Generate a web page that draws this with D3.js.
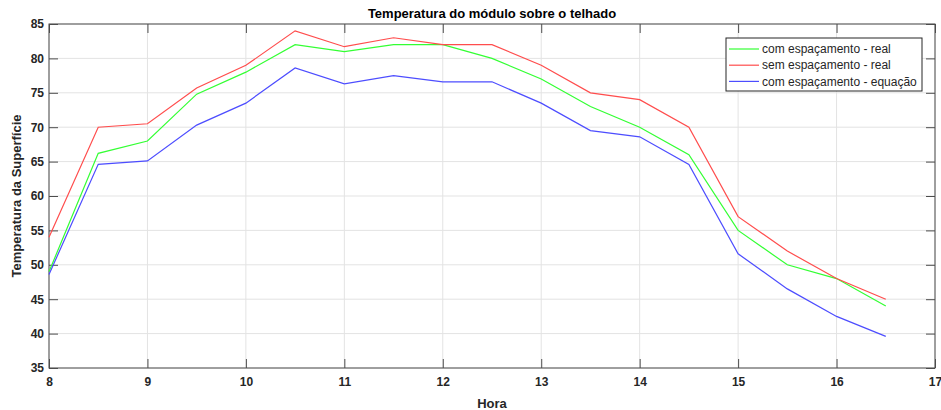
<!DOCTYPE html>
<html>
<head>
<meta charset="utf-8">
<script src="https://cdn.jsdelivr.net/npm/d3@7"></script>
<style>
body { margin: 0; background: #fff; }
text { font-family: "Liberation Sans", Arial, sans-serif; }
</style>
</head>
<body>
<div id="chart"></div>
<script>
var width = 941, height = 410
var margin = { top: 24, right: 6, bottom: 42, left: 49 }

// hours of the day
var horas = [8, 8.5, 9, 9.5, 10, 10.5, 11, 11.5, 12, 12.5, 13, 13.5, 14, 14.5, 15, 15.5, 16, 16.5]
var comEspReal = [49, 66.2, 68, 74.8, 78, 82, 81, 82, 82, 80, 77, 73, 70, 66, 55, 50, 48, 44]
var semEspReal = [54, 70, 70.5, 75.7, 79, 84, 81.7, 83, 82, 82, 79, 75, 74, 70, 57, 52, 48, 45]
var comEspEq = [48.6, 64.6, 65.1, 70.3, 73.5, 78.6, 76.3, 77.5, 76.6, 76.6, 73.5, 69.5, 68.6, 64.6, 51.6, 46.5, 42.5, 39.6]

var xTicks = [8, 9, 10, 11, 12, 13, 14, 15, 16, 17]
var yTicks = [35, 40, 45, 50, 55, 60, 65, 70, 75, 80, 85]

var seriesNames = ["com espaçamento - real", "sem espaçamento - real", "com espaçamento - equação"]
var seriesColors = ["#33ff33", "#ff4d4d", "#4d4dff"]
var seriesData = [comEspReal, semEspReal, comEspEq]

var svg = d3.select("#chart")
  .append("svg")
  .attr("width", width)
  .attr("height", height)

var w = width - margin.left - margin.right
var h = height - margin.top - margin.bottom

var g = svg.append("g")
  .attr("transform", "translate(" + margin.left + "," + margin.top + ")")

var x = d3.scaleLinear().domain([8, 17]).range([0, w])
var y = d3.scaleLinear().domain([35, 85]).range([h, 0])

// grid
g.append("g")
  .selectAll("line")
  .data(xTicks)
  .enter()
  .append("line")
  .attr("x1", function (d) { return x(d) })
  .attr("x2", function (d) { return x(d) })
  .attr("y1", 0)
  .attr("y2", h)
  .attr("stroke", "#e3e3e3")
g.append("g")
  .selectAll("line")
  .data(yTicks)
  .enter()
  .append("line")
  .attr("y1", function (d) { return y(d) })
  .attr("y2", function (d) { return y(d) })
  .attr("x1", 0)
  .attr("x2", w)
  .attr("stroke", "#e3e3e3")

// axes, ticks inside like matlab
var axisStyle = function (sel) {
  sel.select(".domain").remove()
  sel.selectAll(".tick line").attr("stroke", "#4d4d4d")
  sel.selectAll(".tick text")
    .attr("fill", "#262626")
    .style("font-size", "12px")
    .style("font-weight", "bold")
}
g.append("g")
  .attr("transform", "translate(0," + h + ")")
  .call(d3.axisBottom(x).tickValues(xTicks).tickSize(-9).tickPadding(9).tickFormat(d3.format("d")))
  .call(axisStyle)
g.append("g")
  .call(d3.axisTop(x).tickValues(xTicks).tickSize(-9).tickFormat(""))
  .call(axisStyle)
g.append("g")
  .call(d3.axisLeft(y).tickValues(yTicks).tickSize(-9).tickPadding(5).tickFormat(d3.format("d")))
  .call(axisStyle)
g.append("g")
  .attr("transform", "translate(" + w + ",0)")
  .call(d3.axisRight(y).tickValues(yTicks).tickSize(-9).tickFormat(""))
  .call(axisStyle)

g.append("rect")
  .attr("width", w)
  .attr("height", h)
  .attr("fill", "none")
  .attr("stroke", "#4d4d4d")

// lines
var line = d3.line()
  .x(function (d, i) { return x(horas[i]) })
  .y(function (d) { return y(d) })

g.append("g")
  .selectAll("path")
  .data(seriesData)
  .enter()
  .append("path")
  .attr("d", line)
  .attr("fill", "none")
  .attr("stroke", function (d, i) { return seriesColors[i] })
  .attr("stroke-width", 1.2)

// title and labels
svg.append("text")
  .attr("x", margin.left + w / 2)
  .attr("y", 18)
  .attr("text-anchor", "middle")
  .style("font-size", "13px")
  .style("font-weight", "bold")
  .attr("fill", "#000")
  .text("Temperatura do módulo sobre o telhado")

svg.append("text")
  .attr("x", margin.left + w / 2)
  .attr("y", 408)
  .attr("text-anchor", "middle")
  .style("font-size", "13px")
  .style("font-weight", "bold")
  .attr("fill", "#262626")
  .text("Hora")

svg.append("text")
  .attr("transform", "translate(21," + (margin.top + h / 2) + ") rotate(-90)")
  .attr("text-anchor", "middle")
  .style("font-size", "13px")
  .style("font-weight", "bold")
  .attr("fill", "#262626")
  .text("Temperatura da Superfície")

// legend
var legend = svg.append("g").attr("transform", "translate(726,38)")
legend.append("rect")
  .attr("width", 196)
  .attr("height", 53)
  .attr("fill", "#fff")
  .attr("stroke", "#262626")
var rows = legend.selectAll("g.row")
  .data(seriesNames)
  .enter()
  .append("g")
  .attr("class", "row")
  .attr("transform", function (d, i) { return "translate(0," + (11 + i * 16.2) + ")" })
rows.append("line")
  .attr("x1", 3)
  .attr("x2", 33)
  .attr("stroke", function (d, i) { return seriesColors[i] })
  .attr("stroke-width", 1.2)
rows.append("text")
  .attr("x", 36)
  .attr("dy", "0.35em")
  .style("font-size", "12px")
  .attr("fill", "#262626")
  .text(function (d) { return d })
</script>
</body>
</html>
